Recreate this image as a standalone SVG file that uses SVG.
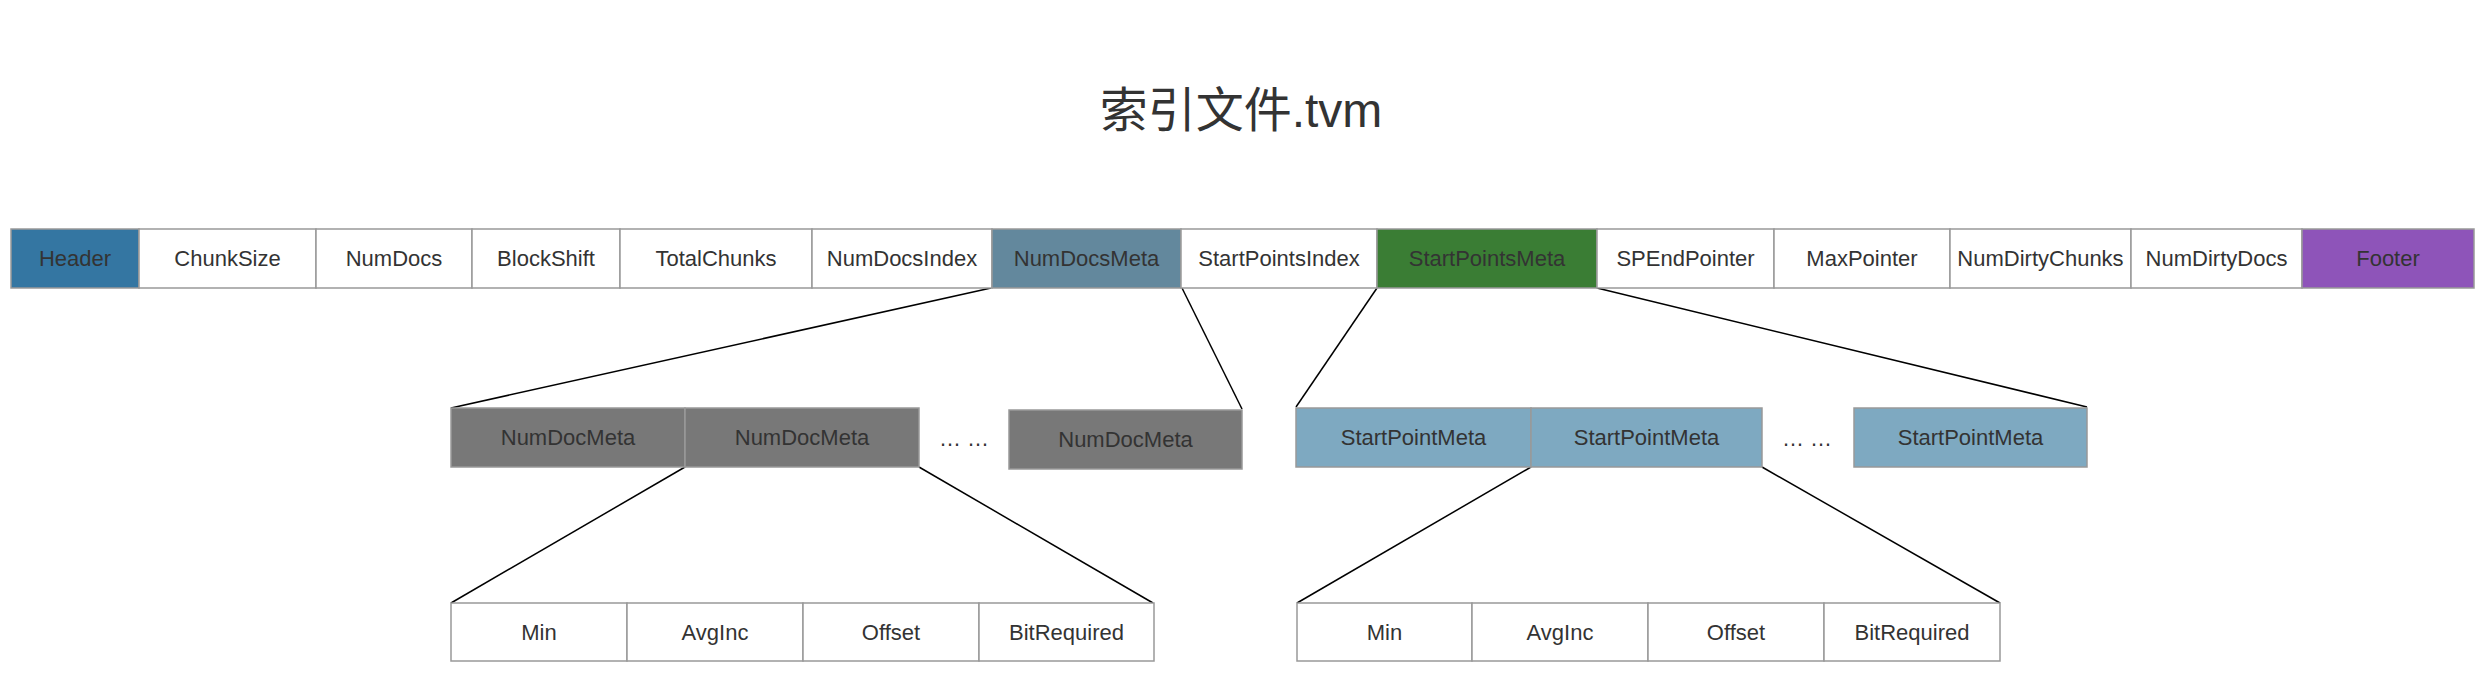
<svg xmlns="http://www.w3.org/2000/svg" width="2482" height="692" viewBox="0 0 2482 692">
<style>
.b{stroke:#999;stroke-width:1.5}
.w{fill:#fff}
.t{font-family:"Liberation Sans",Arial,sans-serif;font-size:22px;fill:#333;text-anchor:middle}
.c{stroke:#000;stroke-width:1.5;fill:none}
.g{fill:#787878}
.s{fill:#7ea9c1}
</style>
<rect width="2482" height="692" fill="#fff"/>
<text x="1241" y="127" style="font-family:'Liberation Sans','Noto Sans CJK SC',sans-serif;font-size:48px;fill:#333;text-anchor:middle">索引文件.tvm</text>
<g id="connectors">
<line class="c" x1="991" y1="288" x2="451" y2="408"/>
<line class="c" x1="1182" y1="288" x2="1242" y2="409"/>
<line class="c" x1="1377" y1="288" x2="1296" y2="407"/>
<line class="c" x1="1597" y1="288" x2="2087" y2="407"/>
<line class="c" x1="685" y1="467" x2="451" y2="603"/>
<line class="c" x1="919" y1="467" x2="1153" y2="603"/>
<line class="c" x1="1531" y1="467" x2="1297" y2="603"/>
<line class="c" x1="1762" y1="467" x2="2000" y2="603"/>
</g>
<g id="Header"><rect class="b" x="11" y="229" width="128" height="59" fill="#3476a2"/><text class="t" x="75" y="266">Header</text></g>
<g id="ChunkSize"><rect class="b w" x="139" y="229" width="177" height="59"/><text class="t" x="227.5" y="266">ChunkSize</text></g>
<g id="NumDocs"><rect class="b w" x="316" y="229" width="156" height="59"/><text class="t" x="394" y="266">NumDocs</text></g>
<g id="BlockShift"><rect class="b w" x="472" y="229" width="148" height="59"/><text class="t" x="546" y="266">BlockShift</text></g>
<g id="TotalChunks"><rect class="b w" x="620" y="229" width="192" height="59"/><text class="t" x="716" y="266">TotalChunks</text></g>
<g id="NumDocsIndex"><rect class="b w" x="812" y="229" width="180" height="59"/><text class="t" x="902" y="266">NumDocsIndex</text></g>
<g id="NumDocsMeta"><rect class="b" x="992" y="229" width="189" height="59" fill="#63889d"/><text class="t" x="1086.5" y="266">NumDocsMeta</text></g>
<g id="StartPointsIndex"><rect class="b w" x="1181" y="229" width="196" height="59"/><text class="t" x="1279" y="266">StartPointsIndex</text></g>
<g id="StartPointsMeta"><rect class="b" x="1377" y="229" width="220" height="59" fill="#3a7d34"/><text class="t" x="1487" y="266">StartPointsMeta</text></g>
<g id="SPEndPointer"><rect class="b w" x="1597" y="229" width="177" height="59"/><text class="t" x="1685.5" y="266">SPEndPointer</text></g>
<g id="MaxPointer"><rect class="b w" x="1774" y="229" width="176" height="59"/><text class="t" x="1862" y="266">MaxPointer</text></g>
<g id="NumDirtyChunks"><rect class="b w" x="1950" y="229" width="181" height="59"/><text class="t" x="2040.5" y="266">NumDirtyChunks</text></g>
<g id="NumDirtyDocs"><rect class="b w" x="2131" y="229" width="171" height="59"/><text class="t" x="2216.5" y="266">NumDirtyDocs</text></g>
<g id="Footer"><rect class="b" x="2302" y="229" width="172" height="59" fill="#8e54b9"/><text class="t" x="2388" y="266">Footer</text></g>

<g id="NumDocMeta1"><rect class="b g" x="451" y="408" width="234" height="59"/><text class="t" x="568" y="445">NumDocMeta</text></g>
<g id="NumDocMeta2"><rect class="b g" x="685" y="408" width="234" height="59"/><text class="t" x="802" y="445">NumDocMeta</text></g>
<g id="dots1"><text class="t" x="964" y="446">… …</text></g>
<g id="NumDocMeta3"><rect class="b g" x="1009" y="410" width="233" height="59"/><text class="t" x="1125.5" y="447">NumDocMeta</text></g>

<g id="StartPointMeta1"><rect class="b s" x="1296" y="408" width="235" height="59"/><text class="t" x="1413.5" y="445">StartPointMeta</text></g>
<g id="StartPointMeta2"><rect class="b s" x="1531" y="408" width="231" height="59"/><text class="t" x="1646.5" y="445">StartPointMeta</text></g>
<g id="dots2"><text class="t" x="1807" y="446">… …</text></g>
<g id="StartPointMeta3"><rect class="b s" x="1854" y="408" width="233" height="59"/><text class="t" x="1970.5" y="445">StartPointMeta</text></g>

<g id="Min1"><rect class="b w" x="451" y="603" width="176" height="58"/><text class="t" x="539" y="640">Min</text></g>
<g id="AvgInc1"><rect class="b w" x="627" y="603" width="176" height="58"/><text class="t" x="715" y="640">AvgInc</text></g>
<g id="Offset1"><rect class="b w" x="803" y="603" width="176" height="58"/><text class="t" x="891" y="640">Offset</text></g>
<g id="BitRequired1"><rect class="b w" x="979" y="603" width="175" height="58"/><text class="t" x="1066.5" y="640">BitRequired</text></g>

<g id="Min2"><rect class="b w" x="1297" y="603" width="175" height="58"/><text class="t" x="1384.5" y="640">Min</text></g>
<g id="AvgInc2"><rect class="b w" x="1472" y="603" width="176" height="58"/><text class="t" x="1560" y="640">AvgInc</text></g>
<g id="Offset2"><rect class="b w" x="1648" y="603" width="176" height="58"/><text class="t" x="1736" y="640">Offset</text></g>
<g id="BitRequired2"><rect class="b w" x="1824" y="603" width="176" height="58"/><text class="t" x="1912" y="640">BitRequired</text></g>
</svg>
